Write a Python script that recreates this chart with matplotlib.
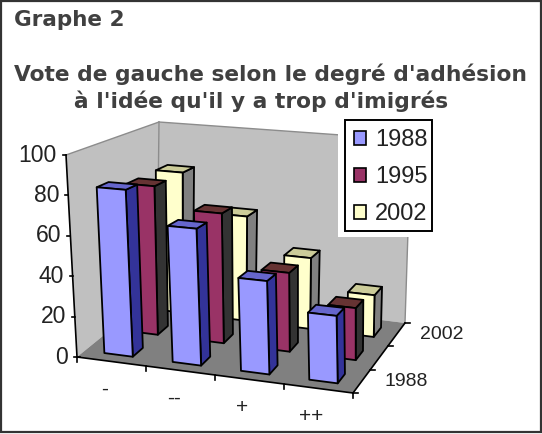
import numpy as np
import matplotlib
matplotlib.use("Agg")
import matplotlib.pyplot as plt
from matplotlib.patches import Patch, Polygon, Rectangle

# DATA
categories = ['-', '--', '+', '++']
years = ['1988', '1995', '2002']
depth_labels = ['1988', '', '2002']
v1988 = [83, 67, 45, 32]
v1995 = [78, 67, 40, 26]
v2002 = [78, 57, 38, 22]
series = [v1988, v1995, v2002]
value_ticks = [0, 20, 40, 60, 80, 100]

# colours per series: front, side, top
FRONT = ['#9999FF', '#993366', '#FFFFCC']
SIDE = ['#333399', '#333333', '#808080']
TOP = ['#6666CC', '#663333', '#CCCC99']
WALL = '#C0C0C0'
FLOOR = '#808080'
TXT = '#404040'

# corners of the 3d box in picture pixels, (u, depth, value)
C = {
    (0, 0, 0): (77, 357), (1, 0, 0): (353, 393),
    (0, 1, 0): (157, 292), (1, 1, 0): (405, 323),
    (0, 0, 1): (66, 155), (1, 0, 1): (349, 178),
    (0, 1, 1): (159, 122), (1, 1, 1): (411, 140),
}


def proj(u, d, v):
    # excel style 3d box, just trilinear between the corners
    v = v / 100.0
    p = np.zeros(2)
    for (a, b, c), xy in C.items():
        w = (u if a else 1 - u) * (d if b else 1 - d) * (v if c else 1 - v)
        p += w * np.array(xy, dtype=float)
    return p


def face(ax, pts, color, z, lw=1.3, edge='black'):
    ax.add_patch(Polygon(pts, closed=True, facecolor=color, edgecolor=edge,
                         linewidth=lw, joinstyle='round', zorder=z))


fig = plt.figure(figsize=(5.42, 4.34), dpi=100)
ax = fig.add_axes([0, 0, 1, 1])
ax.set_xlim(0, 542)
ax.set_ylim(434, 0)
ax.axis('off')
plt.rcParams['font.family'] = ['Liberation Sans']

# frame of the screenshot
ax.add_patch(Rectangle((1, 1), 539.5, 431, fill=False, edgecolor='#333333', linewidth=1.6))

# walls and floor
face(ax, [proj(0, 0, 0), proj(0, 1, 0), proj(0, 1, 100), proj(0, 0, 100)], WALL, 1, lw=0, edge=WALL)
face(ax, [proj(0, 1, 0), proj(1, 1, 0), proj(1, 1, 100), proj(0, 1, 100)], WALL, 1, lw=0, edge=WALL)
face(ax, [proj(0, 0, 0), proj(1, 0, 0), proj(1, 1, 0), proj(0, 1, 0)], FLOOR, 1.5, lw=0, edge=FLOOR)
a, b = proj(0, 1, 0), proj(0, 1, 100)
ax.plot([a[0], b[0]], [a[1], b[1]], color='#8c8c8c', lw=1, zorder=1.6)
a, b = proj(0, 0, 100), proj(0, 1, 100)
ax.plot([a[0], b[0]], [a[1], b[1]], color='#8c8c8c', lw=1, zorder=1.6)
a, b = proj(0, 1, 100), proj(1, 1, 100)
ax.plot([a[0], b[0]], [a[1], b[1]], color='#8c8c8c', lw=1, zorder=1.6)
a, b = proj(1, 1, 0), proj(1, 1, 100)
ax.plot([a[0], b[0]], [a[1], b[1]], color='#8c8c8c', lw=1, zorder=1.6)

# bars, back row first
hu, hd = 0.052, 0.067
z = 2
for j in [2, 1, 0]:
    d0 = (j + 0.5) / 3 - hd
    d1 = (j + 0.5) / 3 + hd
    for i, val in enumerate(series[j]):
        u0 = (i + 0.5) / 4 - hu - 0.002
        u1 = (i + 0.5) / 4 + hu - 0.002
        face(ax, [proj(u1, d0, 0), proj(u1, d1, 0), proj(u1, d1, val), proj(u1, d0, val)], SIDE[j], z)
        face(ax, [proj(u0, d0, val), proj(u1, d0, val), proj(u1, d1, val), proj(u0, d1, val)], TOP[j], z)
        face(ax, [proj(u0, d0, 0), proj(u1, d0, 0), proj(u1, d0, val), proj(u0, d0, val)], FRONT[j], z)
        z += 0.1

# value axis
a, b = proj(0, 0, 0), proj(0, 0, 100)
ax.plot([a[0], b[0]], [a[1], b[1]], color='black', lw=1.2, zorder=20)
for t in value_ticks:
    p = proj(0, 0, t)
    ax.plot([p[0] - 3, p[0] + 3 if t == 0 else p[0]], [p[1], p[1]], color='black', lw=1.2, zorder=20)
    ax.text(p[0] - 9, p[1], str(t), ha='right', va='center', fontsize=16.5, color='#222222', zorder=20)

# category axis
a, b = proj(0, 0, 0), proj(1, 0, 0)
ax.plot([a[0], b[0]], [a[1], b[1]], color='black', lw=1.2, zorder=20)
for i in range(5):
    p = proj(i / 4, 0, 0)
    ax.plot([p[0], p[0]], [p[1], p[1] + 5], color='black', lw=1.2, zorder=20)
for i, lab in enumerate(categories):
    p = proj((i + 0.5) / 4, 0, 0)
    ax.text(p[0] - 7, p[1] + 28, lab, ha='center', va='center', fontsize=15, color='#222222')

# depth axis
a, b = proj(1, 0, 0), proj(1, 1, 0)
ax.plot([a[0], b[0]], [a[1], b[1]], color='black', lw=1.2, zorder=20)
for j in range(4):
    p = proj(1, j / 3, 0)
    ax.plot([p[0], p[0] + 5], [p[1], p[1]], color='black', lw=1.2, zorder=20)
for j, lab in enumerate(depth_labels):
    p = proj(1, (j + 0.5) / 3, 0)
    ax.text(p[0] + 45, p[1], lab, ha='center', va='center', fontsize=14, color='#222222')

# legend with the white patch that cuts into the wall, box drawn by hand
ax.add_patch(Rectangle((338, 112), 72, 125, facecolor='white', edgecolor='none', zorder=30))
ax.add_patch(Rectangle((345, 120), 87, 111, facecolor='white', edgecolor='black', linewidth=1.4, zorder=30.5))
handles = [Patch(facecolor=FRONT[k], edgecolor='black', linewidth=1.2, label=years[k]) for k in range(3)]
leg = ax.legend(handles=handles, loc='upper left', bbox_to_anchor=(345 / 542, 1 - 120 / 434),
                fontsize=17, frameon=False, borderaxespad=0, handlelength=0.5, handleheight=0.5,
                handletextpad=0.38, labelspacing=0.63, borderpad=0.4, labelcolor='#222222')
leg.set_zorder(31)

# titles
ax.text(14, 20, 'Graphe 2', fontsize=15.5, fontweight='bold', family='DejaVu Sans',
        color=TXT, va='center', ha='left')
ax.text(271, 74, "Vote de gauche selon le degré d'adhésion", fontsize=15.7, fontweight='bold',
        family='DejaVu Sans', color=TXT, va='center', ha='center')
ax.text(261, 101, "à l'idée qu'il y a trop d'imigrés", fontsize=15.7, fontweight='bold',
        family='DejaVu Sans', color=TXT, va='center', ha='center')

fig.savefig('out.png', dpi=100)
